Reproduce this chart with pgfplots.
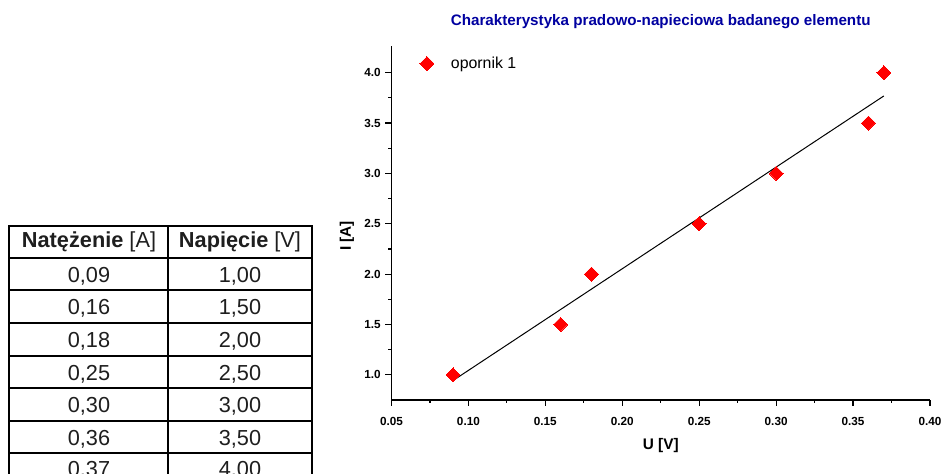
\documentclass[border=0pt]{standalone}
\usepackage{pgfplots}
\pgfplotsset{compat=1.18}
\usepackage{fontspec}
\setmainfont{Liberation Sans}
\definecolor{titleblue}{RGB}{0,0,160}
\definecolor{tabtext}{RGB}{30,30,30}
\begin{document}
\begin{tikzpicture}
\useasboundingbox (0,0) rectangle (706.5pt,355.5pt);
\clip (0,0) rectangle (706.5pt,355.5pt);
% ---- table (pixel coordinates, origin top-left) ----
\begin{scope}[shift={(0pt,355.5pt)}, x=0.75pt, y=-0.75pt]
  \foreach \yy in {258,290,323,356,388,421,453} {
    \draw[line width=1.1pt] (9,\yy) -- (312,\yy);
  }
  \draw[line width=1.1pt] (168,226) -- (168,480);
  \draw[line width=1.6pt] (9,480) -- (9,226) -- (312,226) -- (312,480);
  \begin{scope}[every node/.style={font=\fontsize{16.3}{18}\selectfont, text=tabtext, inner sep=0pt}]
    \node[anchor=base] at (89,248) {\textbf{Natężenie} [A]};
    \node[anchor=base] at (240,248) {\textbf{Napięcie} [V]};
    \node[anchor=base] at (89,282.5) {0,09};  \node[anchor=base] at (240,282.5) {1,00};
    \node[anchor=base] at (89,314.5) {0,16};  \node[anchor=base] at (240,314.5) {1,50};
    \node[anchor=base] at (89,347.5) {0,18};  \node[anchor=base] at (240,347.5) {2,00};
    \node[anchor=base] at (89,380.5) {0,25};  \node[anchor=base] at (240,380.5) {2,50};
    \node[anchor=base] at (89,412.5) {0,30};  \node[anchor=base] at (240,412.5) {3,00};
    \node[anchor=base] at (89,445.5) {0,36};  \node[anchor=base] at (240,445.5) {3,50};
    \node[anchor=base] at (89,476.5) {0,37};  \node[anchor=base] at (240,476.5) {4,00};
  \end{scope}
\end{scope}
% ---- chart ----
\begin{axis}[
  at={(293.6pt,55.5pt)}, anchor=south west,
  scale only axis, width=403.9pt, height=265.5pt,
  xmin=0.05, xmax=0.40, ymin=0.75, ymax=4.265,
  axis x line*=bottom, axis y line*=left,
  axis line style={line width=1pt, -},
  xtick={0.05,0.10,0.15,0.20,0.25,0.30,0.35,0.40},
  ytick={1.0,1.5,2.0,2.5,3.0,3.5,4.0},
  minor x tick num=1, minor y tick num=1,
  tick align=outside,
  major tick length=4.5pt, minor tick length=2.25pt,
  every tick/.style={line width=0.9pt, black},
  /pgf/number format/assume math mode=true,
  xticklabel style={/pgf/number format/.cd, fixed, fixed zerofill, precision=2, /tikz/.cd, font=\fontsize{8.8}{10}\selectfont\bfseries, yshift=-5pt},
  yticklabel style={/pgf/number format/.cd, fixed, fixed zerofill, precision=1, /tikz/.cd, font=\fontsize{8.8}{10}\selectfont\bfseries},
  xlabel={U [V]}, ylabel={I [A]},
  xlabel style={at={(axis description cs:0.5,-0.13)}, anchor=center, font=\fontsize{11.5}{13}\selectfont\bfseries},
  ylabel style={at={(axis description cs:-0.0826,0.463)}, anchor=center, rotate=0, font=\fontsize{11.5}{13}\selectfont\bfseries},
  every axis title shift=0pt,
  title={Charakterystyka pradowo-napieciowa badanego elementu},
  title style={at={(axis description cs:0.5,1.059)}, anchor=base, font=\fontsize{11.4}{13}\selectfont\bfseries, text=titleblue},
  legend style={draw=none, fill=none, at={(axis description cs:0.045,0.985)}, anchor=north west, font=\fontsize{11.9}{14}\selectfont},
  legend image code/.code={\path[draw=none, fill=none] (-5pt,-5pt) rectangle (16pt,5pt); \draw[#1] plot coordinates {(0pt,0pt)};},
  clip=false,
]
\addplot[black, line width=0.75pt, forget plot] coordinates {(0.09,0.943) (0.37,3.769)};
\addplot[only marks, mark=square*, mark size=3.7pt, mark options={rotate=45, fill=red, draw=red, line width=0pt}, red] coordinates {
(0.09,1.0) (0.16,1.5) (0.18,2.0) (0.25,2.5) (0.30,3.0) (0.36,3.5) (0.37,4.0)
};
\addlegendentry{opornik 1}
\end{axis}
\end{tikzpicture}
\end{document}
